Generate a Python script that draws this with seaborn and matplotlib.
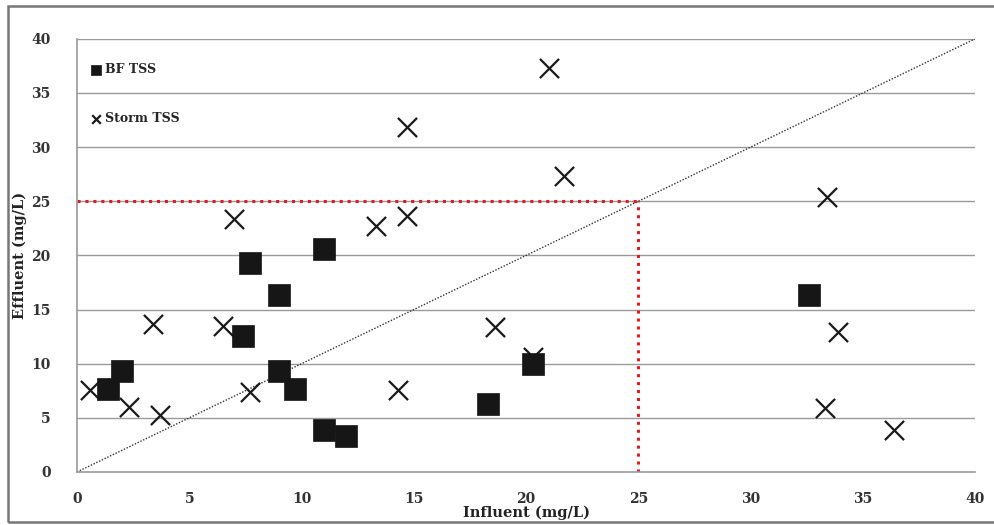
import matplotlib
matplotlib.use("Agg")
import matplotlib.pyplot as plt
import seaborn as sns
import pandas as pd
from matplotlib.patches import Rectangle

# BF TSS (squares)
bf_influent = [1.4, 2.0, 7.4, 7.7, 9.0, 9.0, 9.7, 11.0, 11.0, 12.0, 18.3, 20.3, 32.6]
bf_effluent = [7.7, 9.3, 12.6, 19.3, 16.3, 9.3, 7.7, 20.6, 3.9, 3.3, 6.3, 10.0, 16.3]

# Storm TSS (crosses)
storm_influent = [0.6, 2.3, 3.4, 3.7, 6.5, 7.0, 7.7, 13.3, 14.3, 14.7, 14.7, 18.6, 20.3,
                  21.0, 21.7, 33.4, 33.9, 33.3, 36.4]
storm_effluent = [7.6, 6.0, 13.7, 5.3, 13.5, 23.4, 7.4, 22.7, 7.6, 31.9, 23.6, 13.4, 10.6,
                  37.3, 27.3, 25.4, 12.9, 5.9, 3.9]

series_names = ["BF TSS", "Storm TSS"]
ref_x = [0, 40]
limit_val = 25
x_ticks = [0, 5, 10, 15, 20, 25, 30, 35, 40]
y_ticks = [0, 5, 10, 15, 20, 25, 30, 35, 40]

df = pd.DataFrame({
    "Influent": bf_influent + storm_influent,
    "Effluent": bf_effluent + storm_effluent,
    "Series": [series_names[0]] * len(bf_influent) + [series_names[1]] * len(storm_influent),
})

sns.set_style("white")
plt.rcParams["font.family"] = ["DejaVu Serif"]

fig = plt.figure(figsize=(9.95, 5.25), dpi=100)
ax = fig.add_axes([0.0774, 0.101, 0.9026, 0.825])

# grid lines
for yv in y_ticks[1:]:
    ax.axhline(yv, color="#9a9a9a", lw=1.0, zorder=0)

# 1:1 line
ax.plot(ref_x, ref_x, ls=(0, (1, 1.2)), color="#333333", lw=1.0, zorder=1)
# red dotted limit lines
ax.plot([0, limit_val], [limit_val, limit_val], ls=(0, (1, 1.6)), color="#e8191e", lw=2.2, zorder=1)
ax.plot([limit_val, limit_val], [0, limit_val], ls=(0, (1, 1.6)), color="#e8191e", lw=2.2, zorder=1)

sns.scatterplot(data=df[df.Series == series_names[1]], x="Influent", y="Effluent",
                marker="x", s=190, color="#1a1a1a", linewidth=1.6, ax=ax, zorder=3,
                label=series_names[1], legend=False)
sns.scatterplot(data=df[df.Series == series_names[0]], x="Influent", y="Effluent",
                marker="s", s=260, color="#161616", edgecolor="#161616", linewidth=0.5,
                ax=ax, zorder=4, label=series_names[0], legend=False)

ax.set_xlim(0, 40)
ax.set_ylim(0, 40)
ax.set_xticks(x_ticks)
ax.set_yticks(y_ticks)
ax.tick_params(axis="both", labelsize=10, color="#9a9a9a", width=1)
ax.tick_params(axis="y", direction="out", length=5, pad=14)
ax.tick_params(axis="x", direction="inout", length=5, pad=12)
for lab in ax.get_xticklabels() + ax.get_yticklabels():
    lab.set_fontweight("bold")
    lab.set_color("#333333")

for side in ["top", "right"]:
    ax.spines[side].set_visible(False)
for side in ["left", "bottom"]:
    ax.spines[side].set_color("#9a9a9a")
    ax.spines[side].set_linewidth(1.2)

ax.set_xlabel("Influent (mg/L)", fontsize=10.5, fontweight="bold", color="#222222")
ax.set_ylabel("Effluent (mg/L)", fontsize=10.5, fontweight="bold", color="#222222")
ax.xaxis.set_label_coords(0.5, -0.077)
ax.yaxis.set_label_coords(-0.056, 0.5)

handles, labels = ax.get_legend_handles_labels()
order = [labels.index(n) for n in series_names]
leg = ax.legend([handles[i] for i in order], [labels[i] for i in order],
                loc="upper left", bbox_to_anchor=(0.0, 0.97), frameon=False,
                labelspacing=2.9, handletextpad=0.1, markerscale=0.45,
                prop={"weight": "bold", "size": 9}, handlelength=1.2)

# outer border
fig.patches.append(Rectangle((0.008, 0.006), 1.0, 0.982, transform=fig.transFigure,
                             fill=False, edgecolor="#777777", lw=1.8))

fig.savefig("out.png", dpi=100)
